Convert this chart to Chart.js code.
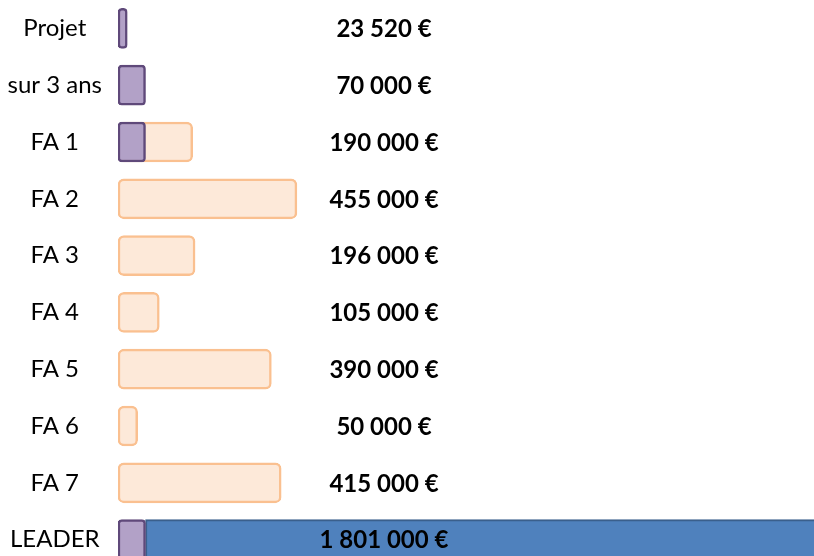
<!DOCTYPE html>
<html>
<head>
<meta charset="utf-8">
<script src="https://cdn.jsdelivr.net/npm/chart.js@4.4.1/dist/chart.umd.min.js"></script>
<style>
html,body{margin:0;padding:0;background:#fff;overflow:hidden;width:814px;height:556px;}
canvas{display:block;}
</style>
</head>
<body>
<canvas id="c" width="814" height="568"></canvas>
<script>
// Data
const categories = ["Projet", "sur 3 ans", "FA 1", "FA 2", "FA 3", "FA 4", "FA 5", "FA 6", "FA 7", "LEADER"];
const amounts = [23520, 70000, 190000, 455000, 196000, 105000, 390000, 50000, 415000, 1801000];
const projectValues = [23520, 70000, 70000, null, null, null, null, null, null, 70000];
const ficheValues = [null, null, 190000, 455000, 196000, 105000, 390000, 50000, 415000, null];
const leaderValues = [null, null, null, null, null, null, null, null, null, 1801000];

function fmt(v) {
  return String(v).replace(/\B(?=(\d{3})+(?!\d))/g, " ") + " €";
}

const leaderFloating = leaderValues.map((v, i) => v == null ? null : [projectValues[i], projectValues[i] + v]);

const valueLabels = {
  id: 'valueLabels',
  afterDatasetsDraw(chart) {
    const ctx = chart.ctx;
    const y = chart.scales.y;
    const area = chart.chartArea;
    ctx.save();
    ctx.font = "bold 24px Lato, 'Open Sans', sans-serif";
    ctx.fillStyle = "#000";
    ctx.textAlign = "center";
    ctx.textBaseline = "middle";
    amounts.forEach((v, i) => {
      ctx.fillText(fmt(v), area.left + 266, y.getPixelForValue(i) + 1);
    });
    ctx.restore();
  }
};

new Chart(document.getElementById('c'), {
  type: 'bar',
  data: {
    labels: categories,
    datasets: [
      {
        data: projectValues,
        backgroundColor: '#b2a1c7',
        borderColor: '#5f497a',
        borderWidth: 2.5,
        borderSkipped: false,
        borderRadius: 4,
        barThickness: 40,
        grouped: false
      },
      {
        data: ficheValues,
        backgroundColor: '#fde9d9',
        borderColor: '#fac090',
        borderWidth: 2.5,
        borderSkipped: false,
        borderRadius: 6,
        barThickness: 40,
        grouped: false
      },
      {
        data: leaderFloating,
        backgroundColor: '#4f81bd',
        borderColor: '#3a5f8c',
        borderWidth: 2,
        borderSkipped: false,
        borderRadius: 0,
        barThickness: 40,
        grouped: false
      }
    ]
  },
  options: {
    indexAxis: 'y',
    responsive: false,
    animation: false,
    layout: { padding: 0 },
    plugins: { legend: { display: false }, tooltip: { enabled: false } },
    scales: {
      x: {
        display: false,
        min: 0,
        max: 1770000
      },
      y: {
        grid: { display: false },
        border: { display: false },
        ticks: {
          color: '#000',
          font: { family: "Lato, 'Open Sans', sans-serif", size: 24 },
          crossAlign: 'center',
          padding: 8
        },
        afterFit(scale) {
          scale.width = 118;
          scale.paddingTop = 0;
          scale.paddingBottom = 0;
        }
      }
    }
  },
  plugins: [valueLabels]
});
</script>
</body>
</html>
